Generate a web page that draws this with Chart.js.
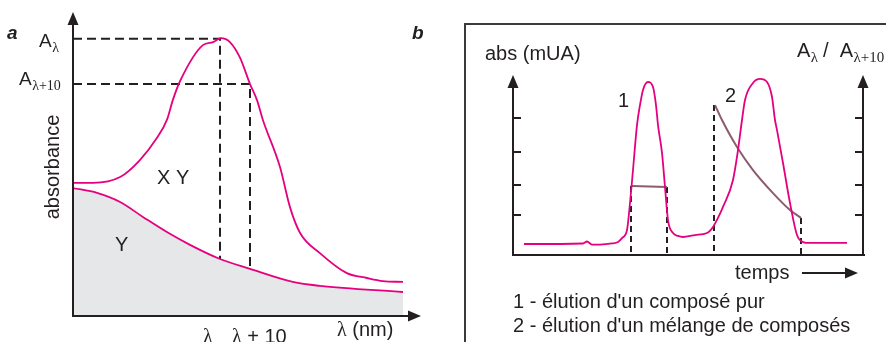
<!DOCTYPE html>
<html>
<head>
<meta charset="utf-8">
<script src="https://cdn.jsdelivr.net/npm/chart.js@4.4.0/dist/chart.umd.min.js"></script>
<style>
body{margin:0;background:#fff}
#wrap{position:relative;width:886px;height:342px;overflow:hidden}
#ca{position:absolute;left:0;top:0}
#cb{position:absolute;left:440px;top:0}
#box{position:absolute;left:464px;top:23px;width:440px;height:340px;border-top:2px solid #3a3a3a;border-left:2px solid #3a3a3a}
</style>
</head>
<body>
<div id="wrap">
<div id="box"></div>
<canvas id="ca" width="440" height="342"></canvas>
<canvas id="cb" width="446" height="342"></canvas>
</div>
<script>
// panel a : spectra (lambda in nm, absorbance 0..1)
var lambdaXY = [301, 307.7, 316.7, 323.3, 329, 332.3, 334.3, 336.7, 344.3, 347.7, 350.3, 353.3, 356.7, 360, 362.3, 364.3, 370, 373.3, 376.7, 383.3, 392.3, 399, 404.3, 411]
var absXY = [0.438, 0.438, 0.457, 0.513, 0.586, 0.645, 0.711, 0.773, 0.891, 0.901, 0.914, 0.901, 0.849, 0.763, 0.711, 0.645, 0.49, 0.359, 0.273, 0.207, 0.141, 0.125, 0.115, 0.112]
var lambdaY = [301, 309, 316.7, 324.3, 332.3, 340, 350, 360, 374.3, 383.3, 411]
var absY = [0.421, 0.405, 0.375, 0.326, 0.276, 0.234, 0.1875, 0.155, 0.112, 0.099, 0.079]
var lambdaPeak = 350
var lambdaNext = 360
var absPeak = 0.912
var absNext = 0.763

// panel b : chromatogram (time, abs) and ratio A(l)/A(l+10)
var time = [1.1, 7.0, 7.4, 7.9, 8.7, 9.9, 10.5, 10.9, 11.4, 11.7, 12.0, 12.4, 12.7, 13.0, 13.5, 14.0, 14.3, 14.5, 14.9, 15.2, 15.5, 16.0, 16.5, 17.0, 18.2, 19.4, 20.0, 20.5, 21.0, 22.0, 22.5, 22.9, 23.2, 24.0, 24.7, 25.4, 25.9, 26.2, 26.4, 27.0, 27.7, 28.4, 29.0, 29.7, 33.4]
var absMUA = [0.61, 0.64, 0.75, 0.58, 0.58, 0.64, 0.72, 0.94, 1.39, 2.89, 4.72, 7.22, 8.33, 9.17, 9.61, 9.33, 8.33, 7.22, 5.67, 3.78, 1.94, 1.22, 1.06, 1.0, 1.11, 1.22, 1.56, 2.06, 2.67, 4.17, 5.83, 7.5, 8.61, 9.56, 9.78, 9.61, 8.78, 7.5, 6.94, 5.11, 2.89, 1.11, 0.72, 0.67, 0.67]
var pureTime = [11.9, 15.4]
var pureRatio = [3.83, 3.78]
var mixTime = [20.2, 20.9, 22.4, 24.0, 26.0, 27.7, 28.8]
var mixRatio = [8.33, 7.5, 6.0, 4.72, 3.44, 2.5, 2.06]
var cutTime = [11.8, 15.4, 20.1, 28.8]
var cutRatio = [3.83, 3.78, 8.33, 2.06]
var absTicks = [2.2, 3.9, 5.7, 7.6]

var MAG = '#e5007e'
var BROWN = '#8d5b6f'
var INK = '#231f20'
var SANS = '"Liberation Sans", Arial, sans-serif'
var SERIF = '"Liberation Serif", "Times New Roman", serif'

function pts(xs, ys){
    return xs.map(function(x, i){ return {x: x, y: ys[i]} })
}
function arrowUp(ctx, x, y){
    ctx.beginPath(); ctx.moveTo(x, y); ctx.lineTo(x - 5.5, y + 13); ctx.lineTo(x + 5.5, y + 13); ctx.closePath(); ctx.fill()
}
function arrowRight(ctx, x, y){
    ctx.beginPath(); ctx.moveTo(x, y); ctx.lineTo(x - 13, y - 5.5); ctx.lineTo(x - 13, y + 5.5); ctx.closePath(); ctx.fill()
}
// "A" with a serif subscript
function subText(ctx, x, y, main, s, size){
    ctx.font = size + 'px ' + SANS
    ctx.fillText(main, x, y)
    var w = ctx.measureText(main).width
    ctx.font = Math.round(size * 0.75) + 'px ' + SERIF
    ctx.fillText(s, x + w + 0.5, y + 5)
    return x + w + 0.5 + ctx.measureText(s).width
}
// lambda in serif followed by sans text
function lamText(ctx, x, y, rest, size){
    ctx.font = size + 'px ' + SERIF
    ctx.fillText('λ', x, y)
    var w = ctx.measureText('λ').width
    ctx.font = size + 'px ' + SANS
    ctx.fillText(rest, x + w, y)
}

var base = {
    responsive: false,
    animation: false,
    events: [],
    elements: {point: {radius: 0}},
    plugins: {legend: {display: false}, tooltip: {enabled: false}}
}

// ---- panel a
var decorA = {
    id: 'decorA',
    afterDraw: function(chart){
        var ctx = chart.ctx, a = chart.chartArea
        ctx.save()
        ctx.strokeStyle = INK; ctx.fillStyle = INK; ctx.lineWidth = 2
        ctx.beginPath()
        ctx.moveTo(a.left, a.bottom); ctx.lineTo(a.left, a.top + 10)
        ctx.moveTo(a.left - 1, a.bottom); ctx.lineTo(a.right - 10, a.bottom)
        ctx.stroke()
        arrowUp(ctx, a.left, a.top)
        arrowRight(ctx, a.right, a.bottom)

        ctx.textBaseline = 'alphabetic'
        ctx.font = 'italic bold 19px ' + SANS
        ctx.fillText('a', 7, 39)
        ctx.fillText('b', 412, 39)
        subText(ctx, 39, 47, 'A', 'λ', 19)
        subText(ctx, 19, 85, 'A', 'λ+10', 19)

        ctx.font = '20px ' + SANS
        ctx.fillText('X Y', 157, 184)
        ctx.fillText('Y', 115, 251)
        lamText(ctx, 203, 343, '', 20)
        lamText(ctx, 232, 343, ' + 10', 20)
        lamText(ctx, 337, 336, ' (nm)', 20)

        ctx.translate(59, 167)
        ctx.rotate(-Math.PI / 2)
        ctx.textAlign = 'center'
        ctx.font = '20px ' + SANS
        ctx.fillText('absorbance', 0, 0)
        ctx.restore()
    }
}

new Chart(document.getElementById('ca'), {
    type: 'line',
    data: {
        datasets: [
            {data: pts(lambdaXY, absXY), borderColor: MAG, borderWidth: 1.8, cubicInterpolationMode: 'monotone', fill: false},
            {data: pts(lambdaY, absY), borderColor: MAG, borderWidth: 1.8, cubicInterpolationMode: 'monotone', fill: 'origin', backgroundColor: '#e6e7e8'},
            {data: [{x: 301, y: absPeak}, {x: lambdaPeak, y: absPeak}, {x: lambdaPeak, y: 0}], borderColor: INK, borderWidth: 2, borderDash: [9, 5], fill: false},
            {data: [{x: 301, y: absNext}, {x: lambdaNext, y: absNext}, {x: lambdaNext, y: 0}], borderColor: INK, borderWidth: 2, borderDash: [9, 5], fill: false}
        ]
    },
    options: Object.assign({}, base, {
        layout: {padding: {left: 73, right: 19, top: 12, bottom: 26}},
        scales: {
            x: {type: 'linear', display: false, min: 301, max: 417},
            y: {display: false, min: 0, max: 1}
        }
    }),
    plugins: [decorA]
})

// ---- panel b
var decorB = {
    id: 'decorB',
    afterDraw: function(chart){
        var ctx = chart.ctx, a = chart.chartArea, ys = chart.scales.y
        ctx.save()
        ctx.strokeStyle = INK; ctx.fillStyle = INK; ctx.lineWidth = 2
        ctx.beginPath()
        ctx.moveTo(a.left, a.bottom); ctx.lineTo(a.left, a.top + 10)
        ctx.moveTo(a.right, a.bottom); ctx.lineTo(a.right, a.top + 10)
        ctx.moveTo(a.left - 1, a.bottom); ctx.lineTo(a.right + 2, a.bottom)
        absTicks.forEach(function(v){
            var py = Math.round(ys.getPixelForValue(v))
            ctx.moveTo(a.left, py); ctx.lineTo(a.left + 8, py)
            ctx.moveTo(a.right, py); ctx.lineTo(a.right - 8, py)
        })
        ctx.stroke()
        arrowUp(ctx, a.left, a.top)
        arrowUp(ctx, a.right, a.top)

        ctx.font = '20px ' + SANS
        ctx.fillText('abs (mUA)', 45, 60)
        var x = subText(ctx, 357, 57, 'A', 'λ', 20)
        ctx.font = '20px ' + SANS
        ctx.fillText('/', x + 5, 57)
        x += 5 + ctx.measureText('/').width + 11
        subText(ctx, x, 57, 'A', 'λ+10', 20)

        ctx.font = '20px ' + SANS
        ctx.fillText('1', 178, 107)
        ctx.fillText('2', 285, 102)
        ctx.fillText('temps', 295, 279)
        ctx.fillText("1 - élution d'un composé pur", 73, 308)
        ctx.fillText("2 - élution d'un mélange de composés", 73, 332)

        ctx.beginPath()
        ctx.moveTo(362, 273); ctx.lineTo(410, 273)
        ctx.stroke()
        arrowRight(ctx, 418, 273)
        ctx.restore()
    }
}

var cuts = cutTime.map(function(t, i){
    return {data: [{x: t, y: cutRatio[i]}, {x: t, y: 0}], yAxisID: 'y2', borderColor: INK, borderWidth: 2, borderDash: [6, 4], fill: false}
})

new Chart(document.getElementById('cb'), {
    type: 'line',
    data: {
        datasets: [
            {data: pts(time, absMUA), borderColor: MAG, borderWidth: 1.8, cubicInterpolationMode: 'monotone', fill: false},
            {data: pts(pureTime, pureRatio), yAxisID: 'y2', borderColor: BROWN, borderWidth: 2, fill: false},
            {data: pts(mixTime, mixRatio), yAxisID: 'y2', borderColor: BROWN, borderWidth: 2, cubicInterpolationMode: 'monotone', fill: false}
        ].concat(cuts)
    },
    options: Object.assign({}, base, {
        layout: {padding: {left: 73, right: 23, top: 75, bottom: 87}},
        scales: {
            x: {type: 'linear', display: false, min: 0, max: 35},
            y: {display: false, min: 0, max: 10},
            y2: {display: false, min: 0, max: 10}
        }
    }),
    plugins: [decorB]
})
</script>
</body>
</html>
